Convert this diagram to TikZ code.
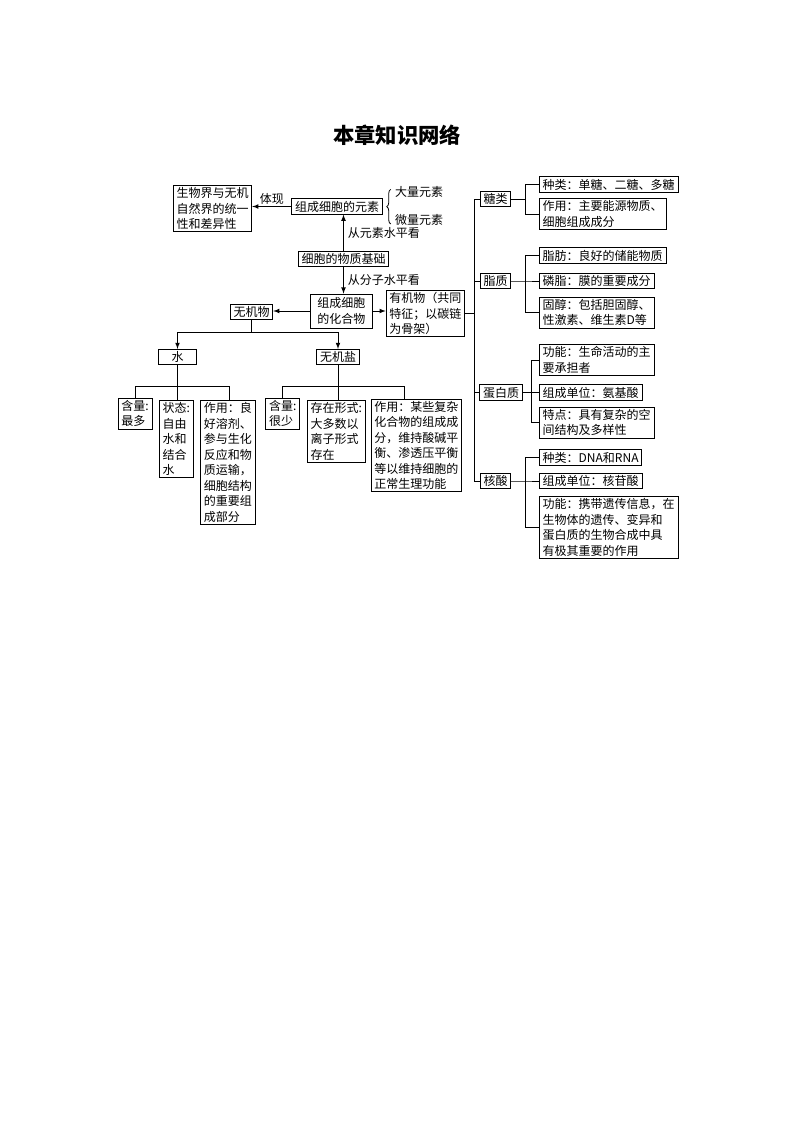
\documentclass[tikz,border=0pt]{standalone}
\usepackage{fontspec}
\setmainfont{Noto Sans CJK SC}
\usetikzlibrary{decorations.pathreplacing}
\tikzset{
  kuang/.style={draw,line width=0.6pt,inner xsep=2.5pt,inner ysep=1.6pt,align=left,font=\fontsize{9}{11.6}\selectfont},
  wenzi/.style={inner sep=0pt,font=\fontsize{9}{11.6}\selectfont},
  xian/.style={line width=0.6pt},
}
\begin{document}
\begin{tikzpicture}[x=0.75pt,y=-0.75pt]
    \useasboundingbox (0,0) rectangle (794,1123);
    \node[font=\fontsize{16}{18}\selectfont\bfseries] (biaoti) at (397,135) {本章知识网络};
    % left half
    \node[kuang] (tongyi) at (212.5,208.5) {生物界与无机\\自然界的统一\\性和差异性};
    \node[kuang] (yuansu) at (337,206.5) {组成细胞的元素};
    \node[wenzi] (daliang) at (419,192) {大量元素};
    \node[wenzi] (weiliang) at (419,220) {微量元素};
    \draw[xian,decorate,decoration={brace,amplitude=3pt}] ([xshift=-3pt,yshift=-3pt]weiliang.west) -- ([xshift=-3pt,yshift=2pt]daliang.west);
    \draw[xian,-latex] (yuansu.west) -- node[above=1pt,wenzi] (tixian) {体现} (yuansu.west -| tongyi.east);
    \node[kuang] (jichu) at (343.5,259) {细胞的物质基础};
    \draw[xian,-latex] (jichu.north) -- (jichu.north |- yuansu.south) node[midway,right=3pt,wenzi] (yuansukan) {从元素水平看};
    \node[kuang,minimum width=47pt,minimum height=25.5pt,align=center] (huahewu) at (341.4,311) {组成细胞\\的化合物};
    \draw[xian,-latex] (jichu.south) -- (jichu.south |- huahewu.north) node[midway,right=3pt,wenzi] (fenzikan) {从分子水平看};
    \node[kuang] (youji) at (425.4,313.5) {有机物（共同\\特征；以碳链\\为骨架）};
    \node[kuang] (wuji) at (251.5,312) {无机物};
    \draw[xian,-latex] (huahewu.east) -- (huahewu.east -| youji.west);
    \draw[xian,-latex] (huahewu.west) -- (huahewu.west -| wuji.east);
    \node[kuang,minimum width=29pt] (shui) at (177.5,357) {水};
    \node[kuang] (yan) at (338,357) {无机盐};
    \draw[xian] (wuji.south) -- ++(0,12) coordinate (wb);
    \draw[xian,-latex] (wb) -| (shui.north);
    \draw[xian,-latex] (wb) -| (yan.north);
    % water and salts
    \node[kuang] (hanliang1) at (135,413.5) {含量:\\最多};
    \node[kuang] (zhuangtai) at (176.3,439) {状态:\\自由\\水和\\结合\\水};
    \node[kuang] (zuoyong1) at (227.9,462.5) {作用：良\\好溶剂、\\参与生化\\反应和物\\质运输，\\细胞结构\\的重要组\\成部分};
    \draw[xian] (shui.south) -- ++(0,21.7) coordinate (sb);
    \draw[xian] (hanliang1.north) |- (sb) -| ([xshift=1pt]zuoyong1.north);
    \draw[xian] (sb) -- (sb |- zhuangtai.north);
    \node[kuang] (hanliang2) at (282.7,413.5) {含量:\\很少};
    \node[kuang] (xingshi) at (336.3,431.5) {存在形式:\\大多数以\\离子形式\\存在};
    \node[kuang] (zuoyong2) at (416.3,445.5) {作用：某些复杂\\化合物的组成成\\分，维持酸碱平\\衡、渗透压平衡\\等以维持细胞的\\正常生理功能};
    \draw[xian] (yan.south) -- ++(0,21.7) coordinate (yb);
    \draw[xian] (hanliang2.north) |- (yb) -| ([xshift=-9pt]zuoyong2.north);
    \draw[xian] (yb) -- (yb |- xingshi.north);
    % right half
    \node[kuang] (tang) at (495.5,199) {糖类};
    \node[kuang] (zhi) at (495.5,281) {脂质};
    \node[kuang] (danbai) at (501,392.5) {蛋白质};
    \node[kuang] (hesuan) at (495.5,481) {核酸};
    \draw[xian] (youji.east) -- ++(9,0) coordinate (zhuxian);
    \draw[xian] (tang.west) -| (zhuxian) |- (hesuan.west);
    \draw[xian] (zhuxian |- zhi.west) -- (zhi.west);
    \draw[xian] (zhuxian |- danbai.west) -- (danbai.west);
    \node[kuang,anchor=west] (tang1) at (539,184.5) {种类：单糖、二糖、多糖};
    \node[kuang,anchor=west] (tang2) at (539,214) {作用：主要能源物质、\\细胞组成成分};
    \draw[xian] (tang.east) -- ++(14,0) coordinate (tb);
    \draw[xian] (tang1.west) -| (tb) |- (tang2.west);
    \node[kuang,anchor=west] (zhi1) at (539,255.5) {脂肪：良好的储能物质};
    \node[kuang,anchor=west] (zhi2) at (539,281) {磷脂：膜的重要成分};
    \node[kuang,anchor=west] (zhi3) at (539,312.5) {固醇：包括胆固醇、\\性激素、维生素D等};
    \draw[xian] (zhi.east) -- ++(14,0) coordinate (zb) -- (zhi2.west);
    \draw[xian] (zhi1.west) -| (zb) |- (zhi3.west);
    \node[kuang,anchor=west] (dan1) at (539,360) {功能：生命活动的主\\要承担者};
    \node[kuang,anchor=west] (dan2) at (539,392.5) {组成单位：氨基酸};
    \node[kuang,anchor=west] (dan3) at (539,422.5) {特点：具有复杂的空\\间结构及多样性};
    \draw[xian] (danbai.east) -- ++(9,0) coordinate (db) -- (dan2.west);
    \draw[xian] (dan1.west) -| (db) |- (dan3.west);
    \node[kuang,anchor=west] (he1) at (539,457.5) {种类：DNA和RNA};
    \node[kuang,anchor=west] (he2) at (539,481) {组成单位：核苷酸};
    \node[kuang,anchor=west] (he3) at (539,527.5) {功能：携带遗传信息，在\\生物体的遗传、变异和\\蛋白质的生物合成中具\\有极其重要的作用};
    \draw[xian] (hesuan.east) -- ++(14,0) coordinate (hb) -- (he2.west);
    \draw[xian] (he1.west) -| (hb) |- (he3.west);
\end{tikzpicture}
\end{document}
